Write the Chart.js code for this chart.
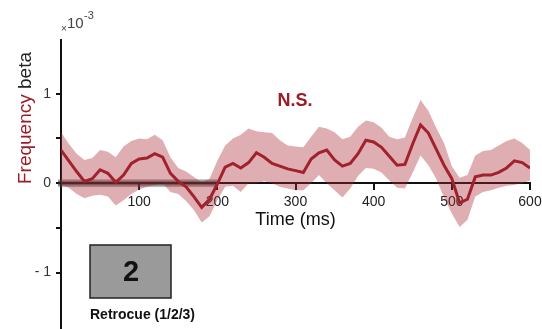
<!DOCTYPE html>
<html>
<head>
<meta charset="utf-8">
<script src="https://cdn.jsdelivr.net/npm/chart.js@4.4.1/dist/chart.umd.min.js"></script>
<style>
  html, body { margin: 0; padding: 0; background: #fff; }
  #wrap { width: 542px; height: 329px; position: relative; }
</style>
</head>
<body>
<div id="wrap"><canvas id="chart"></canvas></div>
<script>
// time in ms
var times = [0, 10, 20, 30, 40, 50, 60, 70, 80, 90,
  100, 110, 120, 130, 140, 150, 160, 170, 180, 190,
  200, 210, 220, 230, 240, 250, 260, 270, 280, 290,
  300, 310, 320, 330, 340, 350, 360, 370, 380, 390,
  400, 410, 420, 430, 440, 450, 460, 470, 480, 490,
  500, 510, 520, 530, 540, 550, 560, 570, 580, 590, 600];

// frequency beta (x10^-3)
var meanBeta = [0.37, 0.25, 0.13, 0.02, 0.05, 0.15, 0.11, 0.01, 0.09, 0.22,
  0.27, 0.28, 0.33, 0.29, 0.11, 0.02, -0.04, -0.15, -0.27, -0.18,
  -0.01, 0.18, 0.22, 0.17, 0.23, 0.34, 0.29, 0.22, 0.19, 0.16,
  0.14, 0.12, 0.27, 0.34, 0.37, 0.26, 0.19, 0.22, 0.33, 0.48,
  0.46, 0.40, 0.30, 0.20, 0.21, 0.44, 0.65, 0.56, 0.38, 0.20,
  0.05, -0.22, -0.18, 0.07, 0.09, 0.09, 0.12, 0.17, 0.25, 0.23, 0.17];

var upperBeta = [0.57, 0.44, 0.33, 0.26, 0.28, 0.37, 0.35, 0.29, 0.41, 0.47,
  0.50, 0.49, 0.54, 0.48, 0.29, 0.17, 0.13, 0.07, 0.01, 0.05,
  0.25, 0.42, 0.50, 0.54, 0.61, 0.58, 0.57, 0.56, 0.48, 0.42,
  0.41, 0.40, 0.52, 0.63, 0.61, 0.57, 0.49, 0.52, 0.63, 0.70,
  0.68, 0.62, 0.52, 0.49, 0.51, 0.73, 0.93, 0.81, 0.62, 0.45,
  0.19, 0.06, 0.09, 0.31, 0.36, 0.37, 0.42, 0.47, 0.50, 0.45, 0.37];

var lowerBeta = [-0.02, -0.05, -0.12, -0.17, -0.14, -0.13, -0.15, -0.25, -0.19, -0.12,
  -0.07, -0.04, -0.02, 0.00, -0.10, -0.12, -0.20, -0.30, -0.44, -0.37,
  -0.19, -0.04, -0.03, -0.10, 0.00, 0.00, 0.02, 0.00, -0.04, -0.06,
  -0.08, -0.08, 0.00, 0.09, 0.00, -0.08, -0.16, -0.06, 0.08, 0.17,
  0.16, 0.12, 0.03, -0.05, -0.06, 0.12, 0.31, 0.20, 0.05, -0.16,
  -0.34, -0.49, -0.41, -0.15, -0.10, -0.08, -0.05, -0.03, -0.02, 0.00, 0.03];

var xTicks = [100, 200, 300, 400, 500, 600];
var yTicks = [-1, -0.5, 0, 0.5, 1];
var yLabels = {'-1': '- 1', '0': '0', '1': '1'};
var windowStart = 0, windowEnd = 200;

var FONT = "'Liberation Sans', Arial, sans-serif";
var RED = '#9c1c26';

function pts(vals) {
    return times.map(function (t, i) { return {x: t, y: vals[i]}; });
}

var extras = {
    id: 'extras',
    beforeDatasetsDraw: function (chart) {
        var ctx = chart.ctx;
        var xs = chart.scales.x, ys = chart.scales.y;
        var y0 = ys.getPixelForValue(0);
        var x1 = xs.getPixelForValue(windowStart) - 3;
        var x2 = xs.getPixelForValue(windowEnd);
        var g = ctx.createLinearGradient(0, y0 - 4, 0, y0 + 4);
        g.addColorStop(0, 'rgba(90,90,90,0.3)');
        g.addColorStop(0.5, 'rgba(30,30,30,0.9)');
        g.addColorStop(1, 'rgba(90,90,90,0.3)');
        ctx.save();
        ctx.fillStyle = g;
        ctx.fillRect(x1, y0 - 4, x2 - x1, 8);
        ctx.restore();
    },
    afterDraw: function (chart) {
        var ctx = chart.ctx;
        var xs = chart.scales.x, ys = chart.scales.y;
        ctx.save();

        // y axis title, two colours
        ctx.translate(31, 118);
        ctx.rotate(-Math.PI / 2);
        ctx.font = '19px ' + FONT;
        ctx.textBaseline = 'alphabetic';
        var w1 = ctx.measureText('Frequency ').width;
        var w2 = ctx.measureText('beta').width;
        var start = -(w1 + w2) / 2;
        ctx.textAlign = 'left';
        ctx.fillStyle = RED;
        ctx.fillText('Frequency', start, 0);
        ctx.fillStyle = '#222';
        ctx.fillText('beta', start + w1, 0);
        ctx.setTransform(1, 0, 0, 1, 0, 0);

        // x10^-3
        ctx.fillStyle = '#444';
        ctx.textAlign = 'left';
        ctx.font = '10px ' + FONT;
        ctx.fillText('\u00d7', 61, 32);
        ctx.font = '15px ' + FONT;
        ctx.fillText('10', 67, 28);
        ctx.font = '11px ' + FONT;
        ctx.fillText('-3', 84, 19);

        // x axis title
        ctx.fillStyle = '#111';
        ctx.font = '18px ' + FONT;
        ctx.textAlign = 'center';
        ctx.textBaseline = 'middle';
        ctx.fillText('Time (ms)', (xs.left + xs.right) / 2, 220);

        // N.S.
        ctx.fillStyle = RED;
        ctx.font = 'bold 18px ' + FONT;
        ctx.fillText('N.S.', 295, 101);

        // retrocue box
        ctx.fillStyle = '#9a9a9a';
        ctx.fillRect(90, 245, 81, 53);
        ctx.strokeStyle = '#222';
        ctx.lineWidth = 1.5;
        ctx.strokeRect(90, 245, 81, 53);
        ctx.fillStyle = '#111';
        ctx.font = 'bold 29px ' + FONT;
        ctx.fillText('2', 131, 273);
        ctx.font = 'bold 14px ' + FONT;
        ctx.textAlign = 'left';
        ctx.fillText('Retrocue (1/2/3)', 90, 315);
        ctx.restore();
    }
};

var ctx = document.getElementById('chart').getContext('2d');
var chart = new Chart(ctx, {
    type: 'line',
    data: {
        datasets: [{
            label: 'lower',
            data: pts(lowerBeta),
            borderWidth: 0,
            pointRadius: 0,
            fill: false
        }, {
            label: 'upper',
            data: pts(upperBeta),
            borderWidth: 0,
            pointRadius: 0,
            backgroundColor: 'rgba(172,42,54,0.38)',
            fill: '-1'
        }, {
            label: 'mean',
            data: pts(meanBeta),
            borderColor: RED,
            borderWidth: 3,
            pointRadius: 0,
            fill: false,
            tension: 0
        }]
    },
    options: {
        responsive: true,
        maintainAspectRatio: false,
        animation: false,
        layout: { padding: { left: 0, right: 12, top: 40, bottom: 0 } },
        plugins: {
            legend: { display: false },
            tooltip: { enabled: false }
        },
        scales: {
            x: {
                type: 'linear',
                min: 0,
                max: 600,
                position: { y: 0 },
                afterBuildTicks: function (scale) {
                    scale.ticks = xTicks.map(function (v) { return {value: v}; });
                },
                afterFit: function (scale) {
                    scale.height = 0;
                    scale.paddingLeft = 0;
                    scale.paddingRight = 0;
                    scale.paddingTop = 0;
                    scale.paddingBottom = 0;
                },
                grid: { drawOnChartArea: false, drawTicks: true, tickLength: 6, color: '#111', lineWidth: 2 },
                border: { color: '#111', width: 2 },
                ticks: { color: '#222', font: { size: 14, family: FONT }, padding: 5, maxRotation: 0 }
            },
            y: {
                min: -1.63,
                max: 1.6,
                afterBuildTicks: function (scale) {
                    scale.ticks = yTicks.map(function (v) { return {value: v}; });
                },
                afterFit: function (scale) {
                    scale.width = 61;
                    scale.paddingTop = 0;
                    scale.paddingBottom = 0;
                    scale.paddingLeft = 0;
                    scale.paddingRight = 0;
                },
                grid: { drawOnChartArea: false, drawTicks: true, tickLength: 5, color: '#111', lineWidth: 2 },
                border: { color: '#111', width: 2 },
                ticks: {
                    color: '#333',
                    font: { size: 14, family: FONT },
                    padding: 5,
                    callback: function (v) { return yLabels[String(v)] || ''; }
                }
            }
        }
    },
    plugins: [extras]
});
</script>
</body>
</html>
